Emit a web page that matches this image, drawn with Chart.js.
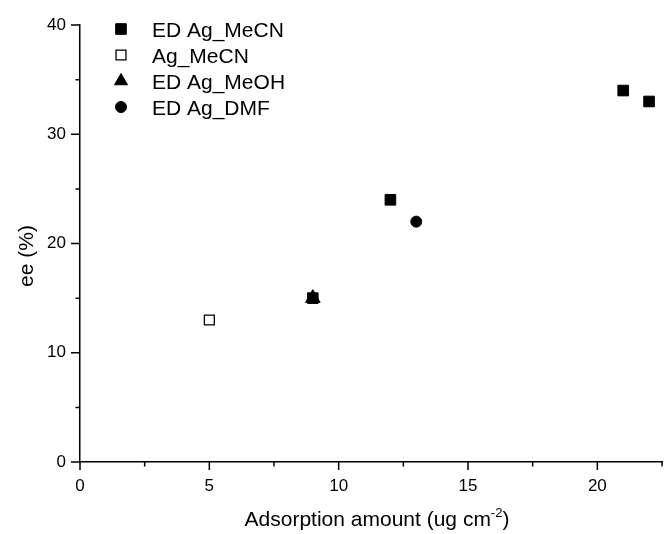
<!DOCTYPE html>
<html>
<head>
<meta charset="utf-8">
<script src="https://cdn.jsdelivr.net/npm/chart.js@4"></script>
<style>
  body { margin: 0; background: #fff; }
  #wrap { width: 665px; height: 534px; }
</style>
</head>
<body>
<div id="wrap"><canvas id="chart" width="665" height="534"></canvas></div>
<script>
// data
const edMeCNx = [9, 12, 21, 22];
const edMeCNy = [15, 24, 34, 33];
const agMeCNx = [5];
const agMeCNy = [13];
const edMeOHx = [9];
const edMeOHy = [15];
const edDMFx = [13];
const edDMFy = [22];

const xTicks = [0, 5, 10, 15, 20];
const yTicks = [0, 10, 20, 30, 40];
const xMinor = [2.5, 7.5, 12.5, 17.5, 22.5];
const yMinor = [5, 15, 25, 35];

const FONT = "'Liberation Sans', Arial, sans-serif";

function pts(xs, ys) {
    return xs.map((x, i) => ({ x: x, y: ys[i] }));
}

const datasets = [
    { label: 'ED Ag_MeCN', data: pts(edMeCNx, edMeCNy), pointStyle: 'rect', pointRadius: 7.5,
      backgroundColor: '#000', borderColor: '#000', borderWidth: 1, order: 3 },
    { label: 'Ag_MeCN', data: pts(agMeCNx, agMeCNy), pointStyle: 'rect', pointRadius: 7,
      backgroundColor: '#fff', borderColor: '#000', borderWidth: 1.3, order: 1 },
    { label: 'ED Ag_MeOH', data: pts(edMeOHx, edMeOHy), pointStyle: 'triangle', pointRadius: 8.5,
      backgroundColor: '#000', borderColor: '#000', borderWidth: 1, order: 1 },
    { label: 'ED Ag_DMF', data: pts(edDMFx, edDMFy), pointStyle: 'circle', pointRadius: 5.5,
      backgroundColor: '#000', borderColor: '#000', borderWidth: 1, order: 1 }
];

// ticks, axis titles and the legend
const extras = {
    id: 'extras',
    afterDraw(chart) {
        const ctx = chart.ctx;
        const xs = chart.scales.x, ys = chart.scales.y;
        const area = chart.chartArea;
        ctx.save();
        ctx.strokeStyle = '#000';
        ctx.lineWidth = 1.5;
        ctx.beginPath();
        xTicks.forEach(v => { const p = xs.getPixelForValue(v); ctx.moveTo(p, area.bottom); ctx.lineTo(p, area.bottom + 8); });
        xMinor.forEach(v => { const p = xs.getPixelForValue(v); ctx.moveTo(p, area.bottom); ctx.lineTo(p, area.bottom + 4.5); });
        yTicks.forEach(v => { const p = ys.getPixelForValue(v); ctx.moveTo(area.left, p); ctx.lineTo(area.left - 9, p); });
        yMinor.forEach(v => { const p = ys.getPixelForValue(v); ctx.moveTo(area.left, p); ctx.lineTo(area.left - 4.5, p); });
        ctx.stroke();

        ctx.fillStyle = '#000';
        // y title
        ctx.save();
        ctx.translate(27, 256);
        ctx.rotate(-Math.PI / 2);
        ctx.font = '21px ' + FONT;
        ctx.textAlign = 'center';
        ctx.textBaseline = 'middle';
        ctx.fillText('ee (%)', 0, 0);
        ctx.restore();

        // x title with superscript
        const main = 'Adsorption amount (ug cm';
        const sup = '-2';
        ctx.font = '21px ' + FONT;
        const w1 = ctx.measureText(main).width;
        const w3 = ctx.measureText(')').width;
        ctx.font = '13px ' + FONT;
        const w2 = ctx.measureText(sup).width;
        let x0 = 377 - (w1 + w2 + w3) / 2;
        const base = 526;
        ctx.textAlign = 'left';
        ctx.textBaseline = 'alphabetic';
        ctx.font = '21px ' + FONT;
        ctx.fillText(main, x0, base);
        ctx.font = '13px ' + FONT;
        ctx.fillText(sup, x0 + w1, base - 9);
        ctx.font = '21px ' + FONT;
        ctx.fillText(')', x0 + w1 + w2, base);

        // legend
        const rows = [29, 55, 81, 107];
        datasets.forEach((ds, i) => {
            ctx.fillStyle = ds.backgroundColor;
            ctx.strokeStyle = ds.borderColor;
            ctx.lineWidth = ds.borderWidth;
            Chart.helpers.drawPoint(ctx, {
                pointStyle: ds.pointStyle, radius: Math.min(ds.pointRadius, 7.5), rotation: 0, borderWidth: ds.borderWidth
            }, 121, rows[i]);
            ctx.fillStyle = '#000';
            ctx.font = '21px ' + FONT;
            ctx.textAlign = 'left';
            ctx.textBaseline = 'alphabetic';
            ctx.fillText(ds.label, 152, rows[i] + 8);
        });
        ctx.restore();
    }
};

const ctx = document.getElementById('chart').getContext('2d');
const chart = new Chart(ctx, {
    type: 'scatter',
    data: { datasets: datasets },
    options: {
        responsive: false,
        animation: false,
        layout: { autoPadding: false, padding: { top: 25, right: 3, left: 0, bottom: 0 } },
        plugins: { legend: { display: false }, tooltip: { enabled: false } },
        elements: { point: { hoverRadius: 7 } },
        scales: {
            x: {
                type: 'linear', min: 0, max: 22.5,
                grid: { display: false, drawTicks: false },
                border: { display: true, color: '#000', width: 1.5 },
                ticks: {
                    stepSize: 5, padding: 14, color: '#000', maxRotation: 0,
                    font: { family: FONT, size: 17 },
                    callback: v => (v % 5 === 0 ? v : '')
                },
                afterFit: s => { s.height = 72; s.paddingRight = 0; s.paddingLeft = 0; }
            },
            y: {
                type: 'linear', min: 0, max: 40,
                grid: { display: false, drawTicks: false },
                border: { display: true, color: '#000', width: 1.5 },
                ticks: {
                    stepSize: 10, padding: 14, color: '#000',
                    font: { family: FONT, size: 17 }
                },
                afterFit: s => { s.width = 80; }
            }
        }
    },
    plugins: [extras]
});
</script>
</body>
</html>
